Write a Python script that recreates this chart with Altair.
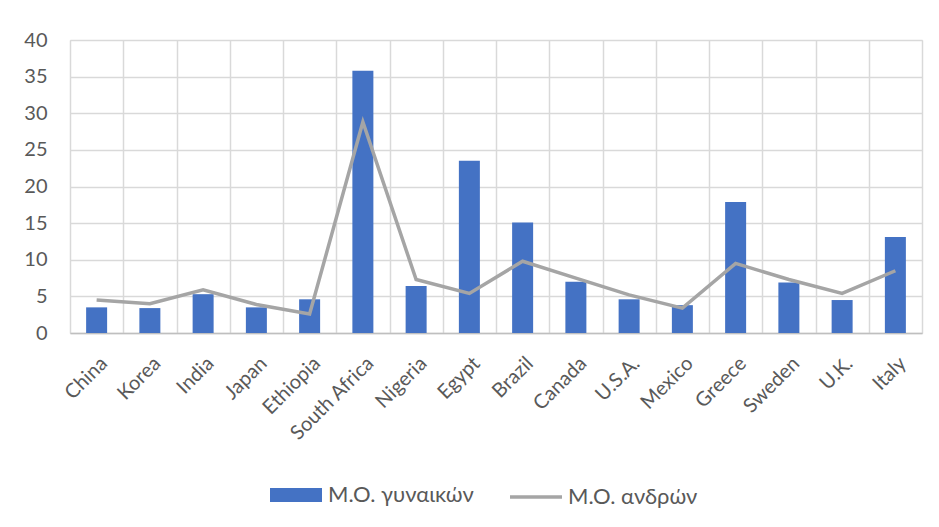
import altair as alt
import pandas as pd

countries = ["China", "Korea", "India", "Japan", "Ethiopia", "South Africa", "Nigeria",
             "Egypt", "Brazil", "Canada", "U.S.A.", "Mexico", "Greece", "Sweden", "U.K.", "Italy"]
women = [3.5, 3.4, 5.3, 3.5, 4.6, 35.8, 6.4, 23.5, 15.1, 7.0, 4.6, 3.8, 17.9, 6.9, 4.5, 13.1]
men = [4.5, 4.0, 5.9, 3.9, 2.6, 28.8, 7.3, 5.4, 9.8, 7.5, 5.2, 3.4, 9.5, 7.3, 5.4, 8.5]
series = ["Μ.Ο. γυναικών", "Μ.Ο. ανδρών"]
colors = ["#4472C4", "#A5A5A5"]
y_ticks = [0, 5, 10, 15, 20, 25, 30, 35, 40]

df = pd.DataFrame({"country": countries, "women": women, "men": men,
                   "sw": series[0], "sm": series[1]})

FONT = "Lato"
TXT = "#595959"
GRID = "#D9D9D9"

x_enc = alt.X(
    "country:N", sort=countries, title=None,
    scale=alt.Scale(paddingInner=0, paddingOuter=0),
    axis=alt.Axis(labelAngle=315, labelFontSize=20, labelColor=TXT, labelFont=FONT,
                  labelPadding=20, ticks=False, grid=True, gridColor=GRID, gridWidth=1.5,
                  tickBand="extent", domainColor="#BFBFBF", domainWidth=1.5),
)
y_scale = alt.Scale(domain=[0, 40])
y_axis = alt.Axis(values=y_ticks, labelFontSize=20, labelColor=TXT, labelFont=FONT,
                  labelPadding=23, ticks=False, domain=False, labelOverlap=False,
                  gridColor=GRID, gridWidth=1.5)

bars = alt.Chart(df).mark_bar(size=21).encode(
    x=x_enc,
    y=alt.Y("women:Q", title=None, scale=y_scale, axis=y_axis),
    fill=alt.Fill("sw:N", scale=alt.Scale(domain=[series[0]], range=[colors[0]]),
                  legend=alt.Legend(orient="none", legendX=200, legendY=429, title=None,
                                    labelFontSize=22, labelColor=TXT, labelFont=FONT,
                                    symbolType="M-1,-0.27H1V0.27H-1Z", symbolSize=2704,
                                    symbolStrokeWidth=0, labelOffset=6)),
)

line = alt.Chart(df).mark_line(strokeWidth=3.5).encode(
    x=x_enc,
    y=alt.Y("men:Q", title=None, scale=y_scale, axis=y_axis),
    stroke=alt.Stroke("sm:N", scale=alt.Scale(domain=[series[1]], range=[colors[1]]),
                      legend=alt.Legend(orient="none", legendX=438, legendY=429, title=None,
                                        labelFontSize=22, labelColor=TXT, labelFont=FONT,
                                        symbolType="stroke", symbolSize=2704,
                                        symbolStrokeWidth=3.5, labelOffset=4)),
)

chart = alt.layer(bars, line).properties(
    width=852, height=293,
    padding={"left": 15, "top": 22, "right": 5, "bottom": 5},
).configure_view(stroke=GRID, strokeWidth=1.5).configure(background="white")

chart.save("out.html", embed_options={"renderer": "svg", "actions": False})
